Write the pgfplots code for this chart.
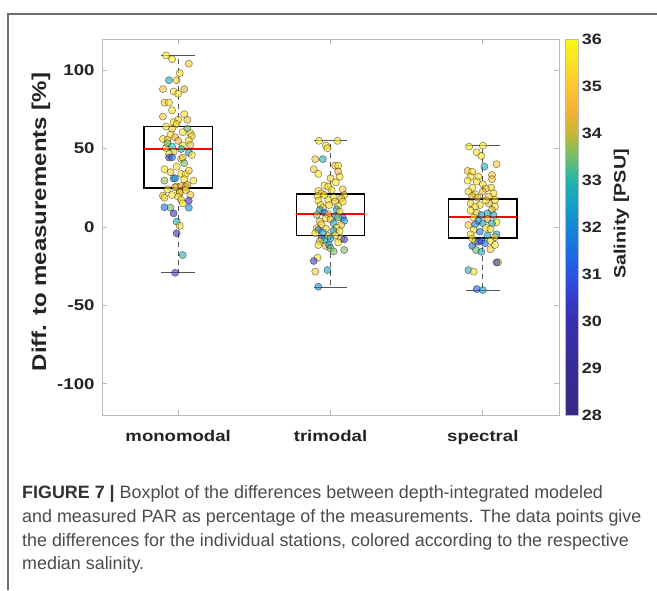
\documentclass[border=0pt]{standalone}
\usepackage{pgfplots}
\pgfplotsset{compat=1.18}
\usepackage{pgfplotstable}
\usepackage{fontspec}
\setmainfont{Liberation Sans}[FakeStretch=1.2]
\newfontfamily\capfont{Liberation Sans}
\definecolor{axgray}{RGB}{185,185,185}
\definecolor{txt}{RGB}{35,35,35}
\definecolor{whisk}{RGB}{85,85,85}
\definecolor{framec}{RGB}{110,110,110}
\definecolor{captxt}{RGB}{75,75,75}
\definecolor{capbold}{RGB}{50,50,50}

\pgfplotstableread{
x y s
0.92 109.5 35.8
0.96 107.1 35.5
1.07 104.2 35.0
1.01 98.2 35.5
0.94 93.7 32.6
0.99 93.7 35.2
0.90 88.0 35.0
0.97 86.5 35.5
1.00 85.0 35.5
1.04 88.0 34.2
0.91 79.4 35.0
0.94 79.4 35.6
0.96 74.5 35.5
1.04 72.0 35.5
0.90 70.5 35.0
0.97 66.9 35.5
1.00 68.4 35.5
1.06 68.4 34.8
0.92 64.1 35.5
0.96 62.6 35.0
1.06 62.8 33.4
0.99 65.8 35.5
1.03 60.5 35.5
1.08 59.9 35.5
0.95 59.0 35.5
0.90 56.2 35.5
0.98 57.3 34.5
1.09 58.1 35.0
0.93 55.6 35.0
1.00 55.0 34.6
1.07 55.2 35.5
1.03 52.0 35.5
1.08 52.5 34.8
0.92 50.5 35.0
0.93 53.5 33.5
0.96 51.3 33.0
0.97 48.0 35.0
1.02 49.8 32.7
1.07 47.5 32.4
1.09 46.0 35.5
0.94 46.6 35.5
0.94 44.3 30.5
0.96 44.5 31.5
1.02 43.4 35.5
1.03 44.3 35.0
1.04 40.7 33.6
0.99 38.5 35.5
0.91 36.9 35.5
0.95 35.0 35.0
1.02 33.9 35.5
1.05 33.9 35.6
1.07 36.0 35.0
1.04 30.5 35.5
0.91 29.6 33.7
0.97 30.9 32.5
0.98 31.1 32.0
1.10 29.6 35.5
0.99 25.8 35.5
0.98 25.4 34.3
1.02 26.2 34.4
1.05 25.1 35.0
1.05 25.8 35.0
1.06 26.8 34.3
0.93 24.0 35.5
1.01 22.2 34.3
1.01 22.0 35.0
1.05 23.6 35.5
1.08 20.5 35.0
0.90 20.0 35.0
0.96 20.4 35.6
1.00 19.4 35.5
0.91 18.7 35.5
1.07 16.8 30.0
1.02 17.3 35.6
1.03 15.1 35.5
0.91 12.6 31.5
0.95 12.3 33.5
1.07 12.3 32.0
0.97 8.7 30.0
0.99 3.4 32.8
1.01 0.8 35.5
0.99 -4.0 29.5
1.03 -17.9 33.0
0.98 -29.2 30.5
}\mono

\pgfplotstableread{
x y s
1.925 55.0 35.6
2.046 55.0 35.6
1.97 52.0 35.5
1.98 50.3 35.5
1.90 43.3 35.0
1.95 43.3 32.8
2.03 39.2 35.0
2.05 39.2 35.5
1.89 36.9 35.0
1.92 33.9 35.5
2.05 35.4 34.5
2.06 32.1 35.5
2.00 31.1 35.0
2.035 28.5 35.6
1.96 26.5 35.5
1.985 25.8 35.5
2.08 24.0 35.0
1.92 23.0 35.5
2.007 23.6 35.5
1.94 21.5 35.0
1.915 19.8 35.5
1.96 20.4 35.6
2.09 20.4 35.5
2.02 18.8 35.5
2.07 18.3 34.4
1.92 16.8 35.5
1.985 17.3 35.6
2.03 16.2 35.0
2.08 16.2 35.5
1.935 14.0 35.5
1.99 14.0 35.5
2.05 13.4 35.5
1.95 12.2 35.0
2.04 11.3 32.5
1.93 10.9 32.6
2.06 9.8 35.5
1.96 9.2 31.5
1.91 7.7 33.6
1.985 8.1 35.0
2.03 7.0 32.5
2.08 6.2 31.0
2.09 4.0 32.5
1.97 5.5 35.5
2.00 4.9 35.0
2.05 6.2 33.5
1.93 3.5 35.0
1.94 1.7 35.5
2.02 2.4 32.6
2.07 1.3 35.0
2.04 -0.5 35.5
1.97 -1.0 35.0
1.91 -0.8 35.5
1.92 -1.9 31.5
2.02 -2.4 32.3
2.06 -2.6 35.5
1.90 -4.0 35.5
1.95 -3.6 32.5
1.985 -5.8 34.4
2.03 -5.3 35.5
1.94 -7.2 30.5
1.96 -8.3 32.8
2.00 -7.2 32.5
2.07 -7.2 34.3
2.09 -7.9 30.5
2.05 -9.8 35.5
1.93 -9.0 35.5
1.92 -11.5 35.5
1.97 -12.1 35.0
1.99 -11.5 32.0
2.00 -13.6 33.5
2.02 -15.5 33.5
2.09 -14.7 33.6
1.915 -19.6 35.5
1.89 -21.7 30.5
1.90 -28.5 35.0
1.98 -27.5 32.6
1.92 -38.1 32.0
}\tri

\pgfplotstableread{
x y s
2.91 51.3 35.6
3.00 51.9 35.6
2.96 47.7 35.5
2.99 45.4 35.5
3.01 38.5 32.7
3.09 40.1 35.0
2.90 35.8 35.0
2.93 35.3 35.5
2.92 32.1 35.5
2.97 32.1 35.5
2.90 29.6 35.6
2.96 29.0 35.5
3.06 33.2 35.0
3.06 30.5 35.0
3.00 27.3 35.5
3.055 25.1 35.5
2.93 25.0 35.5
3.02 24.5 35.0
2.905 22.6 35.5
3.00 22.6 34.4
3.07 21.5 35.5
2.95 20.8 35.5
2.93 19.8 34.3
3.04 19.4 35.0
2.965 18.7 35.0
3.08 17.3 35.5
2.92 15.1 35.0
2.98 14.0 35.5
3.04 15.1 34.5
2.95 13.0 35.5
3.08 13.0 35.5
3.02 17.0 35.5
3.06 10.9 34.3
2.92 10.5 35.5
2.96 9.0 35.0
3.03 8.7 32.6
2.99 7.7 32.5
3.07 7.7 32.7
2.94 6.0 35.5
2.97 3.8 32.3
3.03 5.1 34.3
3.09 3.0 35.5
2.905 1.3 35.0
2.95 1.7 32.0
3.00 2.4 32.5
3.06 2.4 32.8
3.02 -0.5 35.5
2.94 -1.9 35.5
2.98 -3.0 31.5
3.05 -1.3 35.5
3.03 -5.5 32.5
3.09 -4.7 32.7
2.92 -4.7 35.5
3.08 -6.5 35.0
2.93 -7.5 35.5
2.95 -9.4 35.5
2.97 -9.4 30.5
2.99 -8.9 31.0
3.015 -10.4 31.5
3.05 -8.9 35.5
2.93 -12.1 31.5
2.955 -14.7 33.5
2.99 -15.8 32.8
3.05 -14.2 35.0
3.08 -11.5 35.5
3.10 -22.6 35.5
3.09 -22.6 30.5
2.905 -27.5 32.8
2.94 -28.5 35.5
2.96 -39.6 31.0
3.00 -40.3 32.5
}\spec

\begin{document}
\begin{tikzpicture}[x=1pt,y=1pt]
\useasboundingbox (0,0) rectangle (657,590);
\draw[framec, line width=1.5pt] (8,0) -- (8,576) -- (657,576);
\begin{axis}[
  at={(102pt,175pt)}, anchor=south west,
  scale only axis, width=457pt, height=376pt,
  xmin=0.5, xmax=3.5, ymin=-120, ymax=120,
  xtick={1,2,3}, xticklabels={monomodal,trimodal,spectral},
  ytick={-100,-50,0,50,100}, yticklabels={-100,-50,0,50,100},
  tick align=inside, major tick length=5pt,
  axis line style={axgray, line width=0.9pt},
  every tick/.style={axgray, line width=0.9pt},
  tick label style={font=\fontsize{15.5}{18}\selectfont\bfseries, text=txt},
  xticklabel style={yshift=-12pt},
  yticklabel style={xshift=-4pt},
  ylabel={Diff. to measurements [\%]},
  ylabel style={at={(ticklabel cs:0.513)}, font=\fontsize{20}{24}\selectfont\bfseries, text=txt},
  colormap={sal}{rgb255(0)=(53,42,135) rgb255(8)=(55,44,152) rgb255(16)=(55,48,175) rgb255(20)=(55,60,205) rgb255(24)=(40,85,225) rgb255(28)=(25,112,225) rgb255(32)=(20,135,215) rgb255(36)=(20,160,200) rgb255(40)=(35,180,172) rgb255(44)=(115,190,105) rgb255(48)=(200,182,52) rgb255(52)=(245,178,55) rgb255(56)=(250,198,48) rgb255(60)=(250,225,38) rgb255(64)=(249,250,20)},
  point meta min=28, point meta max=36,
  colorbar,
  colorbar style={
    at={(parent axis.north east)}, anchor=north west, xshift=-2pt,
    scale only axis, width=12.7pt, height=376pt,
    ytick={28,29,30,31,32,33,34,35,36},
    yticklabels={28,29,30,31,32,33,34,35,36},
    yticklabel pos=right,
    major tick length=0pt,
    axis line style={axgray, line width=0.8pt},
    tick label style={font=\fontsize{15}{17}\selectfont\bfseries, text=txt},
    ylabel={Salinity [PSU]},
    ylabel style={at={(ticklabel cs:0.535,5pt)}, font=\fontsize{16.5}{20}\selectfont\bfseries, text=txt},
  },
]
% boxes
\addplot[black, line width=1.4pt, line join=miter] coordinates {(0.775,25) (1.225,25) (1.225,64) (0.775,64) (0.775,25) (1.225,25)};
\addplot[black, line width=1.4pt, line join=miter] coordinates {(1.775,-5.3) (2.225,-5.3) (2.225,21) (1.775,21) (1.775,-5.3) (2.225,-5.3)};
\addplot[black, line width=1.4pt, line join=miter] coordinates {(2.775,-7) (3.225,-7) (3.225,17.9) (2.775,17.9) (2.775,-7) (3.225,-7)};
% whiskers
\addplot[whisk, line width=1pt, dash pattern=on 5pt off 4pt] coordinates {(1,64) (1,109.5)};
\addplot[whisk, line width=1pt, dash pattern=on 5pt off 4pt] coordinates {(1,25) (1,-29.2)};
\addplot[whisk, line width=1pt, dash pattern=on 5pt off 4pt] coordinates {(2,21) (2,55)};
\addplot[whisk, line width=1pt, dash pattern=on 5pt off 4pt] coordinates {(2,-5.3) (2,-38.8)};
\addplot[whisk, line width=1pt, dash pattern=on 5pt off 4pt] coordinates {(3,17.9) (3,52)};
\addplot[whisk, line width=1pt, dash pattern=on 5pt off 4pt] coordinates {(3,-7) (3,-40.5)};
% caps
\addplot[whisk, line width=1pt] coordinates {(0.89,109.5) (1.11,109.5)};
\addplot[whisk, line width=1pt] coordinates {(0.89,-29.2) (1.11,-29.2)};
\addplot[whisk, line width=1pt] coordinates {(1.89,55) (2.11,55)};
\addplot[whisk, line width=1pt] coordinates {(1.89,-38.8) (2.11,-38.8)};
\addplot[whisk, line width=1pt] coordinates {(2.89,52) (3.11,52)};
\addplot[whisk, line width=1pt] coordinates {(2.89,-40.5) (3.11,-40.5)};
% medians
\addplot[red, line width=2pt] coordinates {(0.775,49.8) (1.225,49.8)};
\addplot[red, line width=2pt] coordinates {(1.775,8.5) (2.225,8.5)};
\addplot[red, line width=2pt] coordinates {(2.775,6.4) (3.225,6.4)};
% points
\addplot[scatter, only marks, mark=*, mark size=3.6pt, scatter src=explicit,
  scatter/use mapped color={draw=black, fill=mapped color},
  mark options={fill opacity=0.6, draw opacity=0.55, line width=0.45pt}]
  table[x=x, y=y, meta=s] {\mono};
\addplot[scatter, only marks, mark=*, mark size=3.6pt, scatter src=explicit,
  scatter/use mapped color={draw=black, fill=mapped color},
  mark options={fill opacity=0.6, draw opacity=0.55, line width=0.45pt}]
  table[x=x, y=y, meta=s] {\tri};
\addplot[scatter, only marks, mark=*, mark size=3.6pt, scatter src=explicit,
  scatter/use mapped color={draw=black, fill=mapped color},
  mark options={fill opacity=0.6, draw opacity=0.55, line width=0.45pt}]
  table[x=x, y=y, meta=s] {\spec};
\end{axis}
\begin{scope}[every node/.style={anchor=base west, inner sep=0pt, text=captxt, font=\capfont\fontsize{17.9}{20}\selectfont}]
\node at (22,91) {\textbf{\textcolor{capbold}{FIGURE 7 |}} Boxplot of the differences between depth-integrated modeled};
\node at (22,67) {and measured PAR as percentage of the measurements. The data points give};
\node at (22,43) {the differences for the individual stations, colored according to the respective};
\node at (22,20) {median salinity.};
\end{scope}
\end{tikzpicture}
\end{document}
